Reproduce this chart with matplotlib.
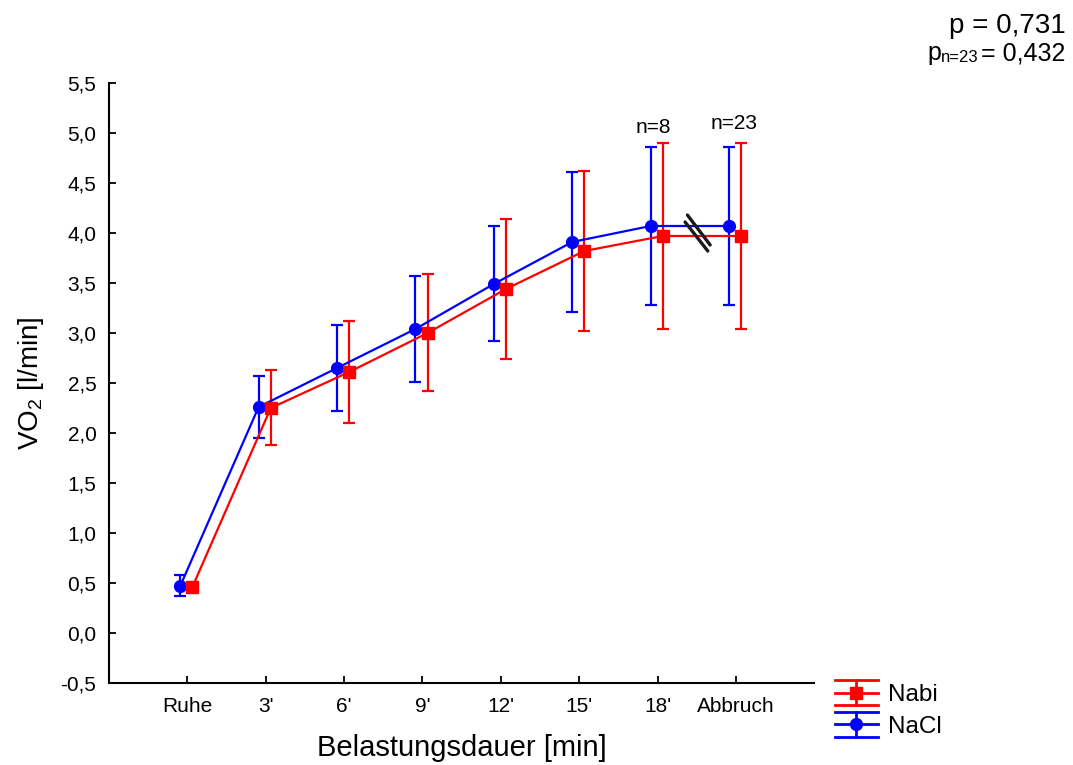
import numpy as np
import matplotlib
matplotlib.use("Agg")
import matplotlib.pyplot as plt
from matplotlib.lines import Line2D
from matplotlib.legend_handler import HandlerBase

plt.rcParams["font.family"] = ["Liberation Sans", "DejaVu Sans"]
plt.rcParams["mathtext.fontset"] = "custom"
plt.rcParams["mathtext.rm"] = "Liberation Sans"
plt.rcParams["mathtext.it"] = "Liberation Sans"

# Messzeitpunkte und VO2-Mittelwerte (+/- SD) in l/min
zeitpunkte = ["Ruhe", "3'", "6'", "9'", "12'", "15'", "18'", "Abbruch"]
nacl_mittel = [0.47, 2.26, 2.65, 3.04, 3.49, 3.91, 4.07, 4.07]
nacl_sd = [0.105, 0.31, 0.43, 0.53, 0.575, 0.70, 0.79, 0.79]
nabi_mittel = [0.46, 2.25, 2.61, 3.00, 3.44, 3.82, 3.97, 3.97]
nabi_sd = [0.04, 0.375, 0.51, 0.585, 0.70, 0.80, 0.93, 0.93]

p_gesamt = "0,731"
p_n23 = "0,432"

ROT = "#ff0000"
BLAU = "#0000ff"


class FehlerbalkenHandler(HandlerBase):
    """Legendensymbol: Linie mit Marker und breiten Fehlerbalken-Kappen."""

    def create_artists(self, legend, orig_handle, xdescent, ydescent,
                       width, height, fontsize, trans):
        farbe = orig_handle.get_color()
        x0, x1 = -xdescent, -xdescent + width
        xm = (x0 + x1) / 2
        ym = height / 2 - ydescent
        dy = 0.72 * height
        teile = []
        for y in (ym - dy, ym, ym + dy):
            teile.append(Line2D([x0, x1], [y, y], color=farbe, lw=2))
        teile.append(Line2D([xm, xm], [ym - dy, ym + dy], color=farbe, lw=2))
        teile.append(Line2D([xm], [ym], color=farbe, lw=0,
                            marker=orig_handle.get_marker(),
                            markersize=orig_handle.get_markersize()))
        for t in teile:
            t.set_transform(trans)
        return teile


x = np.arange(1, len(zeitpunkte) + 1)

fig = plt.figure(figsize=(10.73, 7.65), dpi=100)
ax = fig.add_axes([0.1015, 0.1072, 0.6575, 0.7843])

ax.errorbar(x - 0.09, nacl_mittel, yerr=nacl_sd, color=BLAU, lw=1.6,
            marker="o", markersize=8.5, capsize=4.5, elinewidth=1.6,
            capthick=1.6)
ax.errorbar(x + 0.065, nabi_mittel, yerr=nabi_sd, color=ROT, lw=1.6,
            marker="s", markersize=8.5, capsize=4.5, elinewidth=1.6,
            capthick=1.6)

# Unterbrechungszeichen zwischen 18' und Abbruch (zwei parallele Striche)
for xs, ys in (([7.38, 7.67], [4.18, 3.88]), ([7.35, 7.64], [4.11, 3.82])):
    ax.plot(xs, ys, color="#1a1a1a", lw=2.4, solid_capstyle="round",
            zorder=5)

ax.text(6.95, 5.0, "n=8", ha="center", va="baseline", fontsize=15)
ax.text(7.98, 5.04, "n=23", ha="center", va="baseline", fontsize=15)

ax.set_xlim(0, 9)
ax.set_ylim(-0.5, 5.5)
ax.set_xticks(x)
ax.set_xticklabels(zeitpunkte)
yt = np.arange(-0.5, 5.51, 0.5)
ax.set_yticks(yt)
ax.set_yticklabels([f"{v:.1f}".replace(".", ",") for v in yt])

for s in ("top", "right"):
    ax.spines[s].set_visible(False)
for s in ("left", "bottom"):
    ax.spines[s].set_linewidth(1.5)
ax.tick_params(axis="both", direction="in", length=5, width=1.3,
               labelsize=15)
ax.tick_params(axis="x", pad=10)
ax.tick_params(axis="y", pad=9)

ax.set_xlabel("Belastungsdauer [min]", fontsize=21)
ax.xaxis.set_label_coords(0.5, -0.085)
ax.set_ylabel(r"VO$_\mathregular{2}$ [l/min]", fontsize=20)
ax.yaxis.set_label_coords(-0.089, 0.5)

fig.text(0.9935, 1 - 33 / 765, f"p = {p_gesamt}", ha="right",
         va="baseline", fontsize=20)
# p mit Index n=23: Teile von rechts nach links aneinandergesetzt
t_wert = fig.text(0.9925, 1 - 60 / 765, f"= {p_n23}", ha="right",
                  va="baseline", fontsize=18)
t_index = fig.text(0, 0, "n=23", ha="right", va="baseline", fontsize=12,
                   transform=t_wert.get_transform())
t_index.set_position((0, 0))
fig.canvas.draw()
bb = t_wert.get_window_extent()
inv = fig.transFigure.inverted()
links, _ = inv.transform((bb.x0 - 2, 0))
t_index.set_position((links, 1 - 62 / 765))
fig.canvas.draw()
bb2 = t_index.get_window_extent()
links2, _ = inv.transform((bb2.x0, 0))
fig.text(links2, 1 - 60 / 765, "p", ha="right", va="baseline", fontsize=18)

h_nabi = Line2D([], [], color=ROT, marker="s", markersize=8.5)
h_nacl = Line2D([], [], color=BLAU, marker="o", markersize=8.5)
fig.legend([h_nabi, h_nacl], ["Nabi", "NaCl"],
           handler_map={h_nabi: FehlerbalkenHandler(),
                        h_nacl: FehlerbalkenHandler()},
           loc="upper left", bbox_to_anchor=(818 / 1073, 1 - 667 / 765),
           frameon=False, fontsize=17.5, handlelength=1.75,
           handletextpad=0.45, labelspacing=0.4, borderpad=0.2)

fig.savefig("out.png", dpi=100)
